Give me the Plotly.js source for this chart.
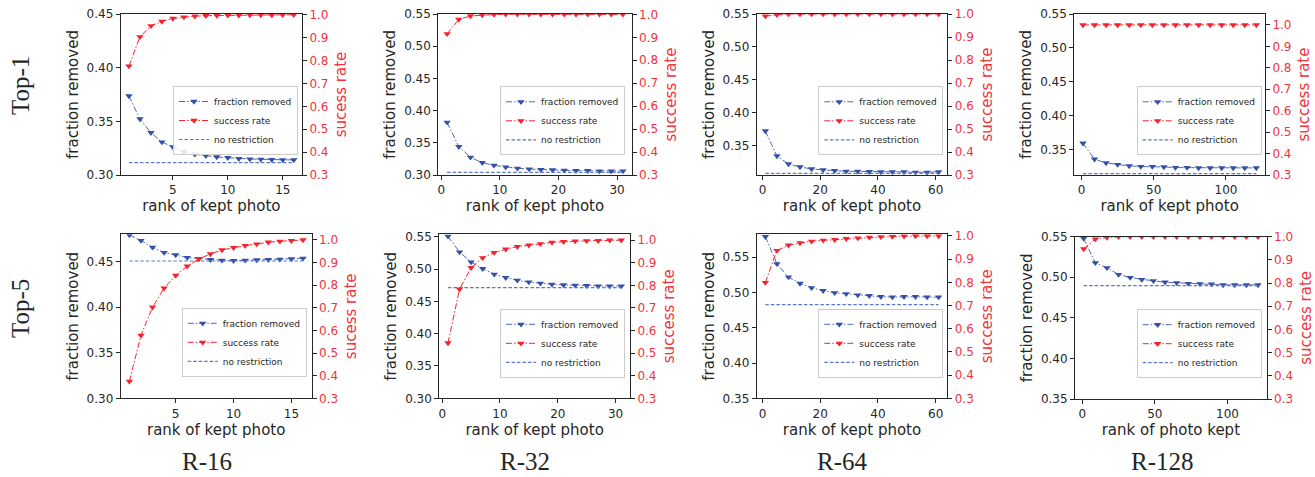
<!DOCTYPE html>
<html>
<head>
<meta charset="utf-8">
<script src="https://cdn.plot.ly/plotly-3.0.1.min.js"></script>
<style>html,body{margin:0;padding:0;background:#fff;}#chart{width:1315px;height:477px;}</style>
</head>
<body>
<div id="chart"></div>
<script>
// ---------------- data ----------------
const ranks16  = [1,2,3,4,5,6,7,8,9,10,11,12,13,14,15,16];
const ranks32  = [1,3,5,7,9,11,13,15,17,19,21,23,25,27,29,31];
const ranks64  = [1,5,9,13,17,21,25,29,33,37,41,45,49,53,57,61];
const ranks128 = [1,9,17,25,33,41,49,57,65,73,81,89,97,105,113,121];

const seriesNames = ["fraction removed", "success rate", "no restriction"];
const rowLabels = ["Top-1", "Top-5"];
const colLabels = ["R-16", "R-32", "R-64", "R-128"];

// Top-1
const top1_R16_frac = [0.3736,0.3522,0.3394,0.3307,0.3261,0.3217,0.3193,0.3180,0.3168,0.3161,0.3152,0.3149,0.3146,0.3143,0.3140,0.3140];
const top1_R16_succ = [0.776,0.904,0.952,0.971,0.984,0.990,0.994,0.996,0.997,0.998,0.998,0.999,0.999,0.999,1.000,1.000];
const top1_R16_base = 0.3115;

const top1_R32_frac = [0.3818,0.3440,0.3274,0.3191,0.3150,0.3124,0.3104,0.3093,0.3083,0.3078,0.3072,0.3067,0.3067,0.3062,0.3062,0.3062];
const top1_R32_succ = [0.915,0.978,0.993,0.997,0.999,1.000,1.000,1.000,1.000,1.000,1.000,1.000,1.000,1.000,1.000,1.000];
const top1_R32_base = 0.3041;

const top1_R64_frac = [0.3727,0.3348,0.3227,0.3182,0.3152,0.3136,0.3126,0.3116,0.3116,0.3111,0.3106,0.3106,0.3106,0.3101,0.3101,0.3106];
const top1_R64_succ = [0.991,0.997,1.000,1.000,1.000,1.000,1.000,1.000,1.000,1.000,1.000,1.000,1.000,1.000,1.000,1.000];
const top1_R64_base = 0.3086;

const top1_R128_frac = [0.3598,0.3362,0.3308,0.3283,0.3264,0.3254,0.3254,0.3249,0.3239,0.3239,0.3234,0.3234,0.3234,0.3234,0.3234,0.3234];
const top1_R128_succ = [1.000,1.000,1.000,1.000,1.000,1.000,1.000,1.000,1.000,1.000,1.000,1.000,1.000,1.000,1.000,1.000];
const top1_R128_base = 0.3151;

// Top-5
const top5_R16_frac = [0.4793,0.4731,0.4657,0.4599,0.4573,0.4544,0.4533,0.4522,0.4515,0.4511,0.4515,0.4518,0.4522,0.4526,0.4529,0.4537];
const top5_R16_succ = [0.375,0.578,0.703,0.787,0.843,0.884,0.916,0.938,0.956,0.966,0.975,0.982,0.990,0.994,0.997,1.000];
const top5_R16_base = 0.4507;

const top5_R32_frac = [0.5505,0.5263,0.5108,0.5005,0.4918,0.4866,0.4825,0.4799,0.4778,0.4763,0.4753,0.4747,0.4742,0.4737,0.4737,0.4737];
const top5_R32_succ = [0.545,0.783,0.878,0.922,0.945,0.960,0.971,0.978,0.984,0.990,0.993,0.996,0.997,0.998,1.000,1.000];
const top5_R32_base = 0.4711;

const top5_R64_frac = [0.5792,0.5406,0.5218,0.5128,0.5067,0.5025,0.4996,0.4982,0.4964,0.4954,0.4940,0.4935,0.4940,0.4940,0.4935,0.4935];
const top5_R64_succ = [0.799,0.937,0.960,0.970,0.977,0.981,0.984,0.988,0.991,0.994,0.996,0.997,0.999,1.000,1.000,1.000];
const top5_R64_base = 0.4827;

const top5_R128_frac = [0.5479,0.5178,0.5116,0.5034,0.4997,0.4972,0.4956,0.4939,0.4931,0.4923,0.4919,0.4914,0.4906,0.4906,0.4906,0.4906];
const top5_R128_succ = [0.947,0.990,0.997,1.000,1.000,1.000,1.000,1.000,1.000,1.000,1.000,1.000,1.000,1.000,1.000,1.000];
const top5_R128_base = 0.4898;

// tick labels
const xTicks16 = [5,10,15];
const xTicks32 = [0,10,20,30];
const xTicks64 = [0,20,40,60];
const xTicks128 = [0,50,100];
const leftTicksA = [0.30,0.35,0.40,0.45];
const leftTicksB = [0.30,0.35,0.40,0.45,0.50,0.55];
const leftTicksC = [0.35,0.40,0.45,0.50,0.55];
const rightTicks = [0.3,0.4,0.5,0.6,0.7,0.8,0.9,1.0];

const xTitles = ["rank of kept photo","rank of kept photo","rank of kept photo","rank of kept photo",
                 "rank of kept photo","rank of kept photo","rank of kept photo","rank of photo kept"];
const rightTitles = ["sucess rate","success rate","success rate","success rate",
                     "sucess rate","success rate","success rate","success rate"];

// ---------------- layout geometry (pixels in the 1315x477 figure) ----------------
const W = 1315, H = 477;
const px = v => v / W;
const py = v => 1 - v / H;

const panels = [
  {x: ranks16,  frac: top1_R16_frac,  succ: top1_R16_succ,  base: top1_R16_base,
   xd:[120.7,302], yd:[14,175], xr:[0.25,16.75], xt:xTicks16, yl:[0.30,0.45], ylt:leftTicksA, yr:[0.3,1.0035], leg:[298,120.5]},
  {x: ranks32,  frac: top1_R32_frac,  succ: top1_R32_succ,  base: top1_R32_base,
   xd:[438.3,631.7], yd:[14,175], xr:[-0.5,32.5], xt:xTicks32, yl:[0.30,0.55], ylt:leftTicksB, yr:[0.3,1.0015], leg:[625,120.8]},
  {x: ranks64,  frac: top1_R64_frac,  succ: top1_R64_succ,  base: top1_R64_base,
   xd:[756.7,947.3], yd:[14,175], xr:[-2,64], xt:xTicks64, yl:[0.306,0.55], ylt:leftTicksC, yr:[0.3,1.0], leg:[943.3,120.8]},
  {x: ranks128, frac: top1_R128_frac, succ: top1_R128_succ, base: top1_R128_base,
   xd:[1074.3,1265], yd:[14,175], xr:[-5,127], xt:xTicks128, yl:[0.313,0.55], ylt:leftTicksC, yr:[0.3,1.051], leg:[1261.7,120.8]},
  {x: ranks16,  frac: top5_R16_frac,  succ: top5_R16_succ,  base: top5_R16_base,
   xd:[120.7,311.7], yd:[234.3,398.3], xr:[0.25,16.75], xt:xTicks16, yl:[0.30,0.48], ylt:leftTicksA, yr:[0.3,1.025], leg:[306.7,342.3]},
  {x: ranks32,  frac: top5_R32_frac,  succ: top5_R32_succ,  base: top5_R32_base,
   xd:[439.3,630], yd:[234.3,398.3], xr:[-0.5,32.5], xt:xTicks32, yl:[0.30,0.5537], ylt:leftTicksB, yr:[0.3,1.026], leg:[625,343.3]},
  {x: ranks64,  frac: top5_R64_frac,  succ: top5_R64_succ,  base: top5_R64_base,
   xd:[756.7,947.3], yd:[234.3,398.3], xr:[-2,64], xt:xTicks64, yl:[0.35,0.5825], ylt:leftTicksC, yr:[0.3,1.007], leg:[943.3,343.3]},
  {x: ranks128, frac: top5_R128_frac, succ: top5_R128_succ, base: top5_R128_base,
   xd:[1075,1266.7], yd:[236.7,399], xr:[-5,127], xt:xTicks128, yl:[0.35,0.55], ylt:leftTicksC, yr:[0.3,1.0], leg:[1261.7,343.7]}
];

const BLUE = "#3451a8", BLUE_LINE = "#4d68b9", BLUE_BASE = "#5c78c8";
const RED = "#f5232f", RED_TXT = "#f2333d";
const INK = "#262626";
const FONT = "DejaVu Sans";

const traces = [];
const layout = {
  width: W, height: H, autosize: false,
  margin: {l:0, r:0, t:0, b:0, pad:0},
  paper_bgcolor: "#ffffff", plot_bgcolor: "rgba(0,0,0,0)",
  font: {family: FONT, color: INK, size: 12},
  showlegend: true,
  annotations: []
};

panels.forEach((p, i) => {
  const n = i + 1;
  const xid = n === 1 ? "x" : "x" + n;
  const yl = 2*i + 1, yr = 2*i + 2;
  const ylid = yl === 1 ? "y" : "y" + yl;
  const yrid = "y" + yr;
  const legId = n === 1 ? "legend" : "legend" + n;

  traces.push({
    type: "scatter", mode: "lines+markers", name: seriesNames[0],
    x: p.x, y: p.frac, xaxis: xid, yaxis: ylid, legend: legId,
    line: {color: BLUE_LINE, width: 1, dash: "6px,2px,1.5px,2px"},
    marker: {symbol: "triangle-down", size: 6.5, color: BLUE}
  });
  traces.push({
    type: "scatter", mode: "lines+markers", name: seriesNames[1],
    x: p.x, y: p.succ, xaxis: xid, yaxis: yrid, legend: legId,
    line: {color: RED, width: 1, dash: "6px,2px,1.5px,2px"},
    marker: {symbol: "triangle-down", size: 6.5, color: RED}
  });
  traces.push({
    type: "scatter", mode: "lines", name: seriesNames[2],
    x: [p.x[0], p.x[p.x.length-1]], y: [p.base, p.base], xaxis: xid, yaxis: ylid, legend: legId,
    line: {color: BLUE_BASE, width: 1.2, dash: "3.5px,2px"}
  });

  const axisCommon = {
    showgrid: false, zeroline: false, showline: true, linecolor: INK, linewidth: 1,
    ticks: "outside", ticklen: 4, tickwidth: 1, tickcolor: INK,
    tickfont: {family: FONT, size: 12, color: INK}
  };

  layout[n === 1 ? "xaxis" : "xaxis" + n] = Object.assign({}, axisCommon, {
    domain: [px(p.xd[0]), px(p.xd[1])], anchor: ylid, range: p.xr,
    tickmode: "array", tickvals: p.xt, ticktext: p.xt.map(v => String(v)), mirror: true,
    title: {text: xTitles[i], font: {family: FONT, size: 15, color: INK}, standoff: 3}
  });
  layout[yl === 1 ? "yaxis" : "yaxis" + yl] = Object.assign({}, axisCommon, {
    domain: [py(p.yd[1]), py(p.yd[0])], anchor: xid, range: p.yl,
    tickmode: "array", tickvals: p.ylt, ticktext: p.ylt.map(v => v.toFixed(2)), mirror: true,
    title: {text: "fraction removed", font: {family: FONT, size: 15, color: INK}, standoff: 4}
  });
  layout["yaxis" + yr] = Object.assign({}, axisCommon, {
    overlaying: ylid, side: "right", anchor: xid, range: p.yr, showline: false,
    tickmode: "array", tickvals: rightTicks, ticktext: rightTicks.map(v => v.toFixed(1)),
    tickfont: {family: FONT, size: 12, color: RED_TXT},
    title: {text: rightTitles[i], font: {family: FONT, size: 15, color: RED_TXT}, standoff: 8}
  });

  layout[legId] = {
    x: px(p.leg[0]), y: py(p.leg[1]), xref: "paper", yref: "paper",
    xanchor: "right", yanchor: "middle",
    bgcolor: "rgba(255,255,255,0.85)", bordercolor: "#cccccc", borderwidth: 1,
    font: {family: FONT, size: 9, color: INK}, tracegroupgap: 0, itemwidth: 30
  };
});

// row and column labels
const rowY = [86, 309];
rowLabels.forEach((t, r) => {
  layout.annotations.push({
    text: t, xref: "paper", yref: "paper", x: px(20), y: py(rowY[r]),
    xanchor: "center", yanchor: "middle", textangle: -90, showarrow: false,
    font: {family: "Liberation Serif", size: 25, color: INK}
  });
});
const colX = [207, 525, 843, 1162];
colLabels.forEach((t, c) => {
  layout.annotations.push({
    text: t, xref: "paper", yref: "paper", x: px(colX[c]), y: py(461),
    xanchor: "center", yanchor: "middle", showarrow: false,
    font: {family: "Liberation Serif", size: 25, color: INK}
  });
});

Plotly.newPlot("chart", traces, layout, {displayModeBar: false, staticPlot: true});
</script>
</body>
</html>
